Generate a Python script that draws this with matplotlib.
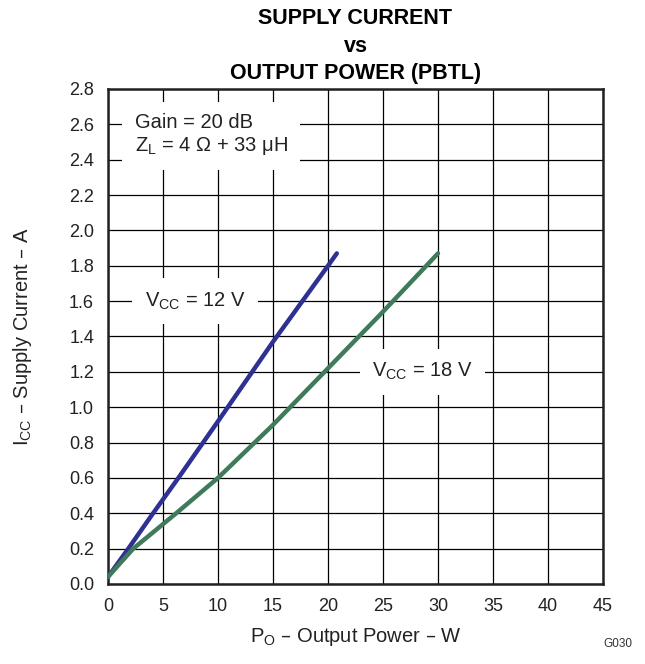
import matplotlib
matplotlib.use('Agg')
import matplotlib.pyplot as plt

plt.rcParams['font.family'] = ['Liberation Sans', 'DejaVu Sans']

p_12v = [0, 1.85, 4.1, 6.4, 10, 15, 20, 20.8]
i_12v = [0.04, 0.20, 0.40, 0.60, 0.92, 1.37, 1.80, 1.87]
p_18v = [0, 1, 2.3, 6.2, 10, 15, 20, 25, 30]
i_18v = [0.04, 0.11, 0.20, 0.40, 0.60, 0.90, 1.22, 1.54, 1.87]
x_ticks = [0, 5, 10, 15, 20, 25, 30, 35, 40, 45]
y_ticks = [0.0, 0.2, 0.4, 0.6, 0.8, 1.0, 1.2, 1.4, 1.6, 1.8, 2.0, 2.2, 2.4, 2.6, 2.8]


def main():
    fig = plt.figure(figsize=(6.45, 6.64), dpi=100)
    ax = fig.add_axes([0.1674, 0.1205, 0.7675, 0.7455])

    ax.plot(p_12v, i_12v, color='#2e3192', lw=3.2, solid_capstyle='round', zorder=3)
    ax.plot(p_18v, i_18v, color='#3f7a5c', lw=3.2, solid_capstyle='round', zorder=3)

    ax.set_xlim(0, 45)
    ax.set_ylim(0, 2.8)
    ax.set_xticks(x_ticks)
    ax.set_yticks(y_ticks)
    ax.set_yticklabels(['%.1f' % v for v in y_ticks])
    ax.tick_params(length=0, labelsize=13, pad=10, colors='#222222')
    ax.grid(True, color='black', lw=0.9)
    ax.set_axisbelow(True)
    for s in ax.spines.values():
        s.set_linewidth(1.8)
        s.set_color('#222222')

    ax.set_xlabel(r'P$_\mathregular{O}$ – Output Power – W', fontsize=14.5,
                  labelpad=8, color='#222222')
    ax.set_ylabel(r'I$_\mathregular{CC}$ – Supply Current – A', fontsize=14.5,
                  labelpad=25, color='#222222')
    ax.set_title('SUPPLY CURRENT\nvs\nOUTPUT POWER (PBTL)', fontsize=15.5,
                 fontweight='bold', linespacing=1.4, pad=7)

    box = dict(facecolor='white', edgecolor='none', pad=9)
    ax.text(2.45, 2.54, 'Gain = 20 dB\n' + r'Z$_\mathregular{L}$ = 4 Ω + 33 μH',
            fontsize=14.5, bbox=box, va='center', linespacing=1.2, zorder=4,
            color='#222222')
    ax.text(3.35, 1.6, r'V$_\mathregular{CC}$ = 12 V', fontsize=14.5, bbox=box,
            va='center', zorder=4, color='#222222')
    ax.text(24.0, 1.2, r'V$_\mathregular{CC}$ = 18 V', fontsize=14.5, bbox=box,
            va='center', zorder=4, color='#222222')

    fig.text(0.98, 0.025, 'G030', fontsize=8.5, ha='right', color='#333333')
    fig.savefig('out.png')


if __name__ == "__main__":
    main()
